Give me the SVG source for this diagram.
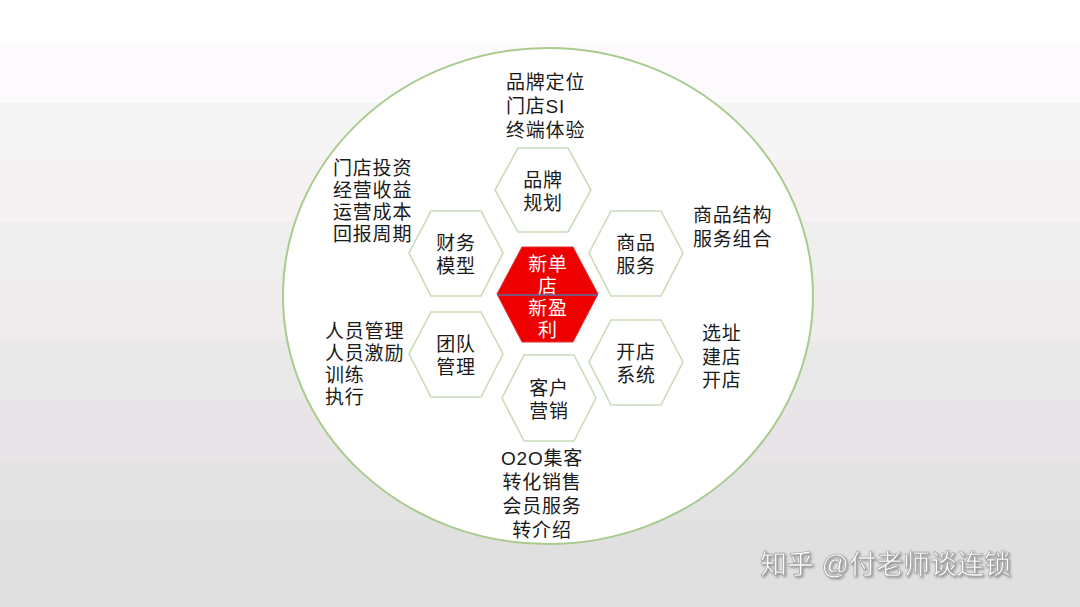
<svg xmlns="http://www.w3.org/2000/svg" width="1080" height="607" viewBox="0 0 1080 607">
<defs>
<style>
.bg{stroke:none}
.hex{fill:#ffffff;stroke:#c9dcba;stroke-width:1.6}
.t{font-family:"Liberation Sans","Noto Sans CJK SC","Noto Sans CJK TC",sans-serif;font-size:19px;letter-spacing:0.8px;fill:#1a1a1a}
.c{text-anchor:middle}
.w{fill:#ffffff}
.wm{font-family:"Liberation Sans","Noto Sans CJK SC",sans-serif;font-size:27px;fill:#ffffff;stroke:#9a9a9a;stroke-width:0.6}
</style>
<filter id="sh" x="-10%" y="-30%" width="120%" height="160%"><feDropShadow dx="1.5" dy="1.5" stdDeviation="0.8" flood-color="#555" flood-opacity="0.6"/></filter>
</defs>
<g id="background">
<rect class="bg" x="0" y="0" width="1080" height="607" fill="#ffffff"/>
<rect class="bg" x="0" y="43" width="1080" height="60" fill="#fcfafc"/>
<rect class="bg" x="0" y="103" width="1080" height="57" fill="#f5f5f5"/>
<rect class="bg" x="0" y="160" width="1080" height="62" fill="#f6f2f4"/>
<rect class="bg" x="0" y="222" width="1080" height="58" fill="#efefef"/>
<rect class="bg" x="0" y="280" width="1080" height="60" fill="#f0ebed"/>
<rect class="bg" x="0" y="340" width="1080" height="60" fill="#e9e9e9"/>
<rect class="bg" x="0" y="400" width="1080" height="60" fill="#e9e4e7"/>
<rect class="bg" x="0" y="460" width="1080" height="60" fill="#e3e3e3"/>
<rect class="bg" x="0" y="520" width="1080" height="87" fill="#e0e0e0"/>
</g>
<g id="circle">
<ellipse cx="548" cy="296" rx="265" ry="248" fill="#ffffff" stroke="#a9cb8e" stroke-width="2"/>
</g>
<g id="connectors"></g>
<g id="hex-brand">
<polygon class="hex" points="518,148 568,148 591,190 568,232 518,232 495,190"/>
<text class="t c" x="543" y="187"><tspan x="543">品牌</tspan><tspan x="543" dy="23">规划</tspan></text>
</g>
<g id="hex-finance">
<polygon class="hex" points="431,211 481,211 503,253 481,296 431,296 409,253"/>
<text class="t c" x="456" y="250"><tspan x="456">财务</tspan><tspan x="456" dy="23">模型</tspan></text>
</g>
<g id="hex-goods">
<polygon class="hex" points="611,211 661,211 683,253 661,296 611,296 589,253"/>
<text class="t c" x="636" y="250"><tspan x="636">商品</tspan><tspan x="636" dy="23">服务</tspan></text>
</g>
<g id="hex-team">
<polygon class="hex" points="431,312 481,312 503,354 481,397 431,397 409,354"/>
<text class="t c" x="456" y="351"><tspan x="456">团队</tspan><tspan x="456" dy="23">管理</tspan></text>
</g>
<g id="hex-open">
<polygon class="hex" points="611,320 661,320 683,362 661,405 611,405 589,362"/>
<text class="t c" x="636" y="359"><tspan x="636">开店</tspan><tspan x="636" dy="23">系统</tspan></text>
</g>
<g id="hex-customer">
<polygon class="hex" points="524,355 574,355 596,398 574,441 524,441 502,398"/>
<text class="t c" x="549" y="395"><tspan x="549">客户</tspan><tspan x="549" dy="23">营销</tspan></text>
</g>
<g id="hex-center">
<polygon points="522,247 573,247 598,294 573,342 522,342 497,294" fill="#ee0000" stroke="#e03030" stroke-width="1"/>
<line x1="497" y1="295" x2="598" y2="295" stroke="#5a6fa8" stroke-width="1.5"/>
<text class="t c w" x="548" y="271"><tspan x="548">新单</tspan><tspan x="548" dy="22">店</tspan><tspan x="548" dy="22">新盈</tspan><tspan x="548" dy="22">利</tspan></text>
</g>
<g id="label-brand">
<text class="t" x="506" y="89"><tspan x="506">品牌定位</tspan><tspan x="506" dy="24">门店SI</tspan><tspan x="506" dy="24">终端体验</tspan></text>
</g>
<g id="label-finance">
<text class="t" x="333" y="175"><tspan x="333">门店投资</tspan><tspan x="333" dy="22">经营收益</tspan><tspan x="333" dy="22">运营成本</tspan><tspan x="333" dy="22">回报周期</tspan></text>
</g>
<g id="label-team">
<text class="t" x="325" y="338"><tspan x="325">人员管理</tspan><tspan x="325" dy="22">人员激励</tspan><tspan x="325" dy="22">训练</tspan><tspan x="325" dy="22">执行</tspan></text>
</g>
<g id="label-goods">
<text class="t" x="693" y="222"><tspan x="693">商品结构</tspan><tspan x="693" dy="24">服务组合</tspan></text>
</g>
<g id="label-open">
<text class="t" x="702" y="340"><tspan x="702">选址</tspan><tspan x="702" dy="24">建店</tspan><tspan x="702" dy="23">开店</tspan></text>
</g>
<g id="label-customer">
<text class="t c" x="542" y="465"><tspan x="542">O2O集客</tspan><tspan x="542" dy="24">转化销售</tspan><tspan x="542" dy="24">会员服务</tspan><tspan x="542" dy="24">转介绍</tspan></text>
</g>
<g id="watermark" filter="url(#sh)">
<text class="wm" x="760" y="574">知乎 @付老师谈连锁</text>
</g>
</svg>
